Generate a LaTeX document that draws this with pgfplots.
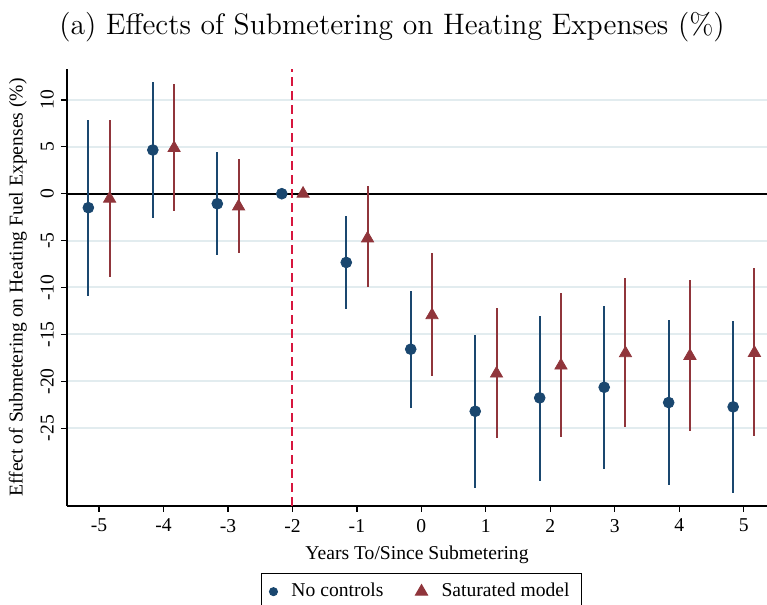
\documentclass[border=0pt]{standalone}
\usepackage{pgfplots}
\pgfplotsset{compat=1.18}
\usepackage{pgfplotstable}
\usepackage{fontspec}
\newfontfamily\stfont{Liberation Serif}
\definecolor{stnavy}{RGB}{26,71,111}
\definecolor{stmaroon}{RGB}{144,53,59}
\definecolor{gridc}{RGB}{226,236,239}
\definecolor{refred}{RGB}{215,22,62}

% event-study estimates: point estimate, lower and upper 95% bound
\pgfplotstableread{
x   y       lo      hi
-5  -1.49  -10.92   7.82
-4   4.66   -2.60  11.92
-3  -1.07   -6.51   4.41
-2   0.00    0.00   0.00
-1  -7.33  -12.30  -2.35
 0 -16.58  -22.80 -10.40
 1 -23.20  -31.40 -15.05
 2 -21.77  -30.60 -12.99
 3 -20.64  -29.35 -11.95
 4 -22.27  -31.06 -13.45
 5 -22.73  -31.90 -13.55
}\nocontrols

\pgfplotstableread{
x   y       lo      hi
-5  -0.53   -8.93   7.90
-4   4.87   -1.89  11.67
-3  -1.36   -6.37   3.73
-2   0.00    0.00   0.00
-1  -4.77  -10.00   0.78
 0 -12.95  -19.40  -6.37
 1 -19.18  -26.10 -12.20
 2 -18.32  -25.90 -10.60
 3 -17.01  -24.90  -9.00
 4 -17.29  -25.30  -9.20
 5 -16.97  -25.80  -7.97
}\saturated

\begin{document}
\begin{tikzpicture}
\path[use as bounding box] (0,0) rectangle (383.5pt,302.5pt);
\node[font=\fontsize{14.8}{17}\selectfont] at (196pt,289pt)
  {(a) Effects of Submetering on Heating Expenses (\%)};
\begin{axis}[
  at={(33.5pt,49.5pt)}, anchor=south west,
  scale only axis, width=350pt, height=218.5pt,
  xmin=-5.496, xmax=5.36, ymin=-33.3, ymax=13.3,
  axis x line*=bottom, axis y line*=left,
  axis line style={black, line width=0.6pt, -},
  xtick={-5,-4,-3,-2,-1,0,1,2,3,4,5},
  xticklabels={{-5},{-4},{-3},{-2},{-1},0,1,2,3,4,5},
  ytick={-25,-20,-15,-10,-5,0,5,10},
  yticklabels={{-25},{-20},{-15},{-10},{-5},0,5,10},
  tick align=outside, major tick length=3pt,
  tick style={black, line width=0.6pt},
  ticklabel style={font=\stfont\fontsize{9.8}{11}\selectfont},
  yticklabel style={rotate=90, anchor=south},
  label style={font=\stfont\fontsize{9.8}{11}\selectfont},
  xlabel={Years To/Since Submetering},
  ylabel={Effect of Submetering on Heating Fuel Expenses (\%)},
  ymajorgrids, major grid style={gridc, line width=1pt},
  legend columns=2,
  legend style={at={(0.5064,-0.153)}, anchor=north, draw=black, line width=0.5pt,
    font=\stfont\fontsize{9.8}{11}\selectfont,
    inner xsep=4pt, inner ysep=3pt,
    /tikz/every odd column/.append style={column sep=5pt},
    /tikz/every even column/.append style={column sep=14pt}},
]
\addplot[black, line width=0.8pt, forget plot] coordinates {(-5.496,0) (5.36,0)};
\addplot[refred, line width=1pt, dash pattern=on 4.5pt off 2.5pt, forget plot]
  coordinates {(-2,-33.3) (-2,13.3)};

\addplot[stnavy, only marks, mark=*, mark size=2.7pt,
  legend image post style={mark size=2pt},
  error bars/.cd, y dir=both, y explicit, error mark=none,
  error bar style={line width=1pt, stnavy}]
  table[x expr=\thisrow{x}-0.165, y=y,
        y error plus expr=\thisrow{hi}-\thisrow{y},
        y error minus expr=\thisrow{y}-\thisrow{lo}] {\nocontrols};
\addlegendentry{No controls}

\addplot[stmaroon, only marks, mark=triangle*, mark size=3.5pt,
  error bars/.cd, y dir=both, y explicit, error mark=none,
  error bar style={line width=1pt, stmaroon}]
  table[x expr=\thisrow{x}+0.165, y=y,
        y error plus expr=\thisrow{hi}-\thisrow{y},
        y error minus expr=\thisrow{y}-\thisrow{lo}] {\saturated};
\addlegendentry{Saturated model}
\end{axis}
\end{tikzpicture}
\end{document}
